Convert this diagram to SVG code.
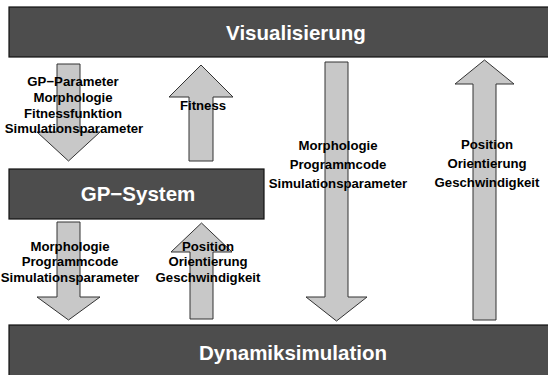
<svg xmlns="http://www.w3.org/2000/svg" width="548" height="375" viewBox="0 0 548 375">
<style>
.box{fill:#4d4d4d;stroke:#111;stroke-width:1.2}
.title{fill:#fff;font-family:"Liberation Sans",Arial,sans-serif;font-weight:bold;font-size:20.5px;text-anchor:middle}
.arrow{fill:#c8c8c8;stroke:#333;stroke-width:1}
.lbl{fill:#000;font-family:"Liberation Sans",Arial,sans-serif;font-weight:bold;font-size:13.2px;text-anchor:middle}
</style>
<rect width="548" height="375" fill="#fff"/>
<g id="visualisierung">
<rect class="box" x="9" y="7" width="550" height="50"/>
<text class="title" x="296" y="40">Visualisierung</text>
</g>
<g id="gp-system">
<rect class="box" x="9" y="169" width="255" height="50"/>
<text class="title" x="138" y="201">GP−System</text>
</g>
<g id="dynamiksimulation">
<rect class="box" x="9" y="325" width="550" height="60"/>
<text class="title" x="293" y="360">Dynamiksimulation</text>
</g>
<g id="connectors">
<polygon class="arrow" points="57,64 80,64 80,132 100,132 68.5,161 37,132 57,132"/>
<polygon class="arrow" points="189,161 213,161 213,97 233,97 201,65 169,97 189,97"/>
<polygon class="arrow" points="57,222 80,222 80,297 100,297 68.5,320 37,297 57,297"/>
<polygon class="arrow" points="190,319 213,319 213,252 232,252 201.5,223 171,252 190,252"/>
<polygon class="arrow" points="325,62 348,62 348,297 367,297 336.5,321 306,297 325,297"/>
<polygon class="arrow" points="473,320 496,320 496,84 514,84 484.5,60 455,84 473,84"/>
</g>
<g id="labels">
<text class="lbl" x="73" y="86">GP−Parameter</text>
<text class="lbl" x="73" y="102">Morphologie</text>
<text class="lbl" x="73" y="118">Fitnessfunktion</text>
<text class="lbl" x="74" y="133">Simulationsparameter</text>
<text class="lbl" x="203" y="110">Fitness</text>
<text class="lbl" x="338" y="150">Morphologie</text>
<text class="lbl" x="338" y="169">Programmcode</text>
<text class="lbl" x="338" y="188">Simulationsparameter</text>
<text class="lbl" x="487" y="149">Position</text>
<text class="lbl" x="487" y="168">Orientierung</text>
<text class="lbl" x="487" y="187">Geschwindigkeit</text>
<text class="lbl" x="70" y="251">Morphologie</text>
<text class="lbl" x="70" y="266">Programmcode</text>
<text class="lbl" x="70" y="282">Simulationsparameter</text>
<text class="lbl" x="208" y="251">Position</text>
<text class="lbl" x="208" y="266">Orientierung</text>
<text class="lbl" x="208" y="282">Geschwindigkeit</text>
</g>
</svg>
